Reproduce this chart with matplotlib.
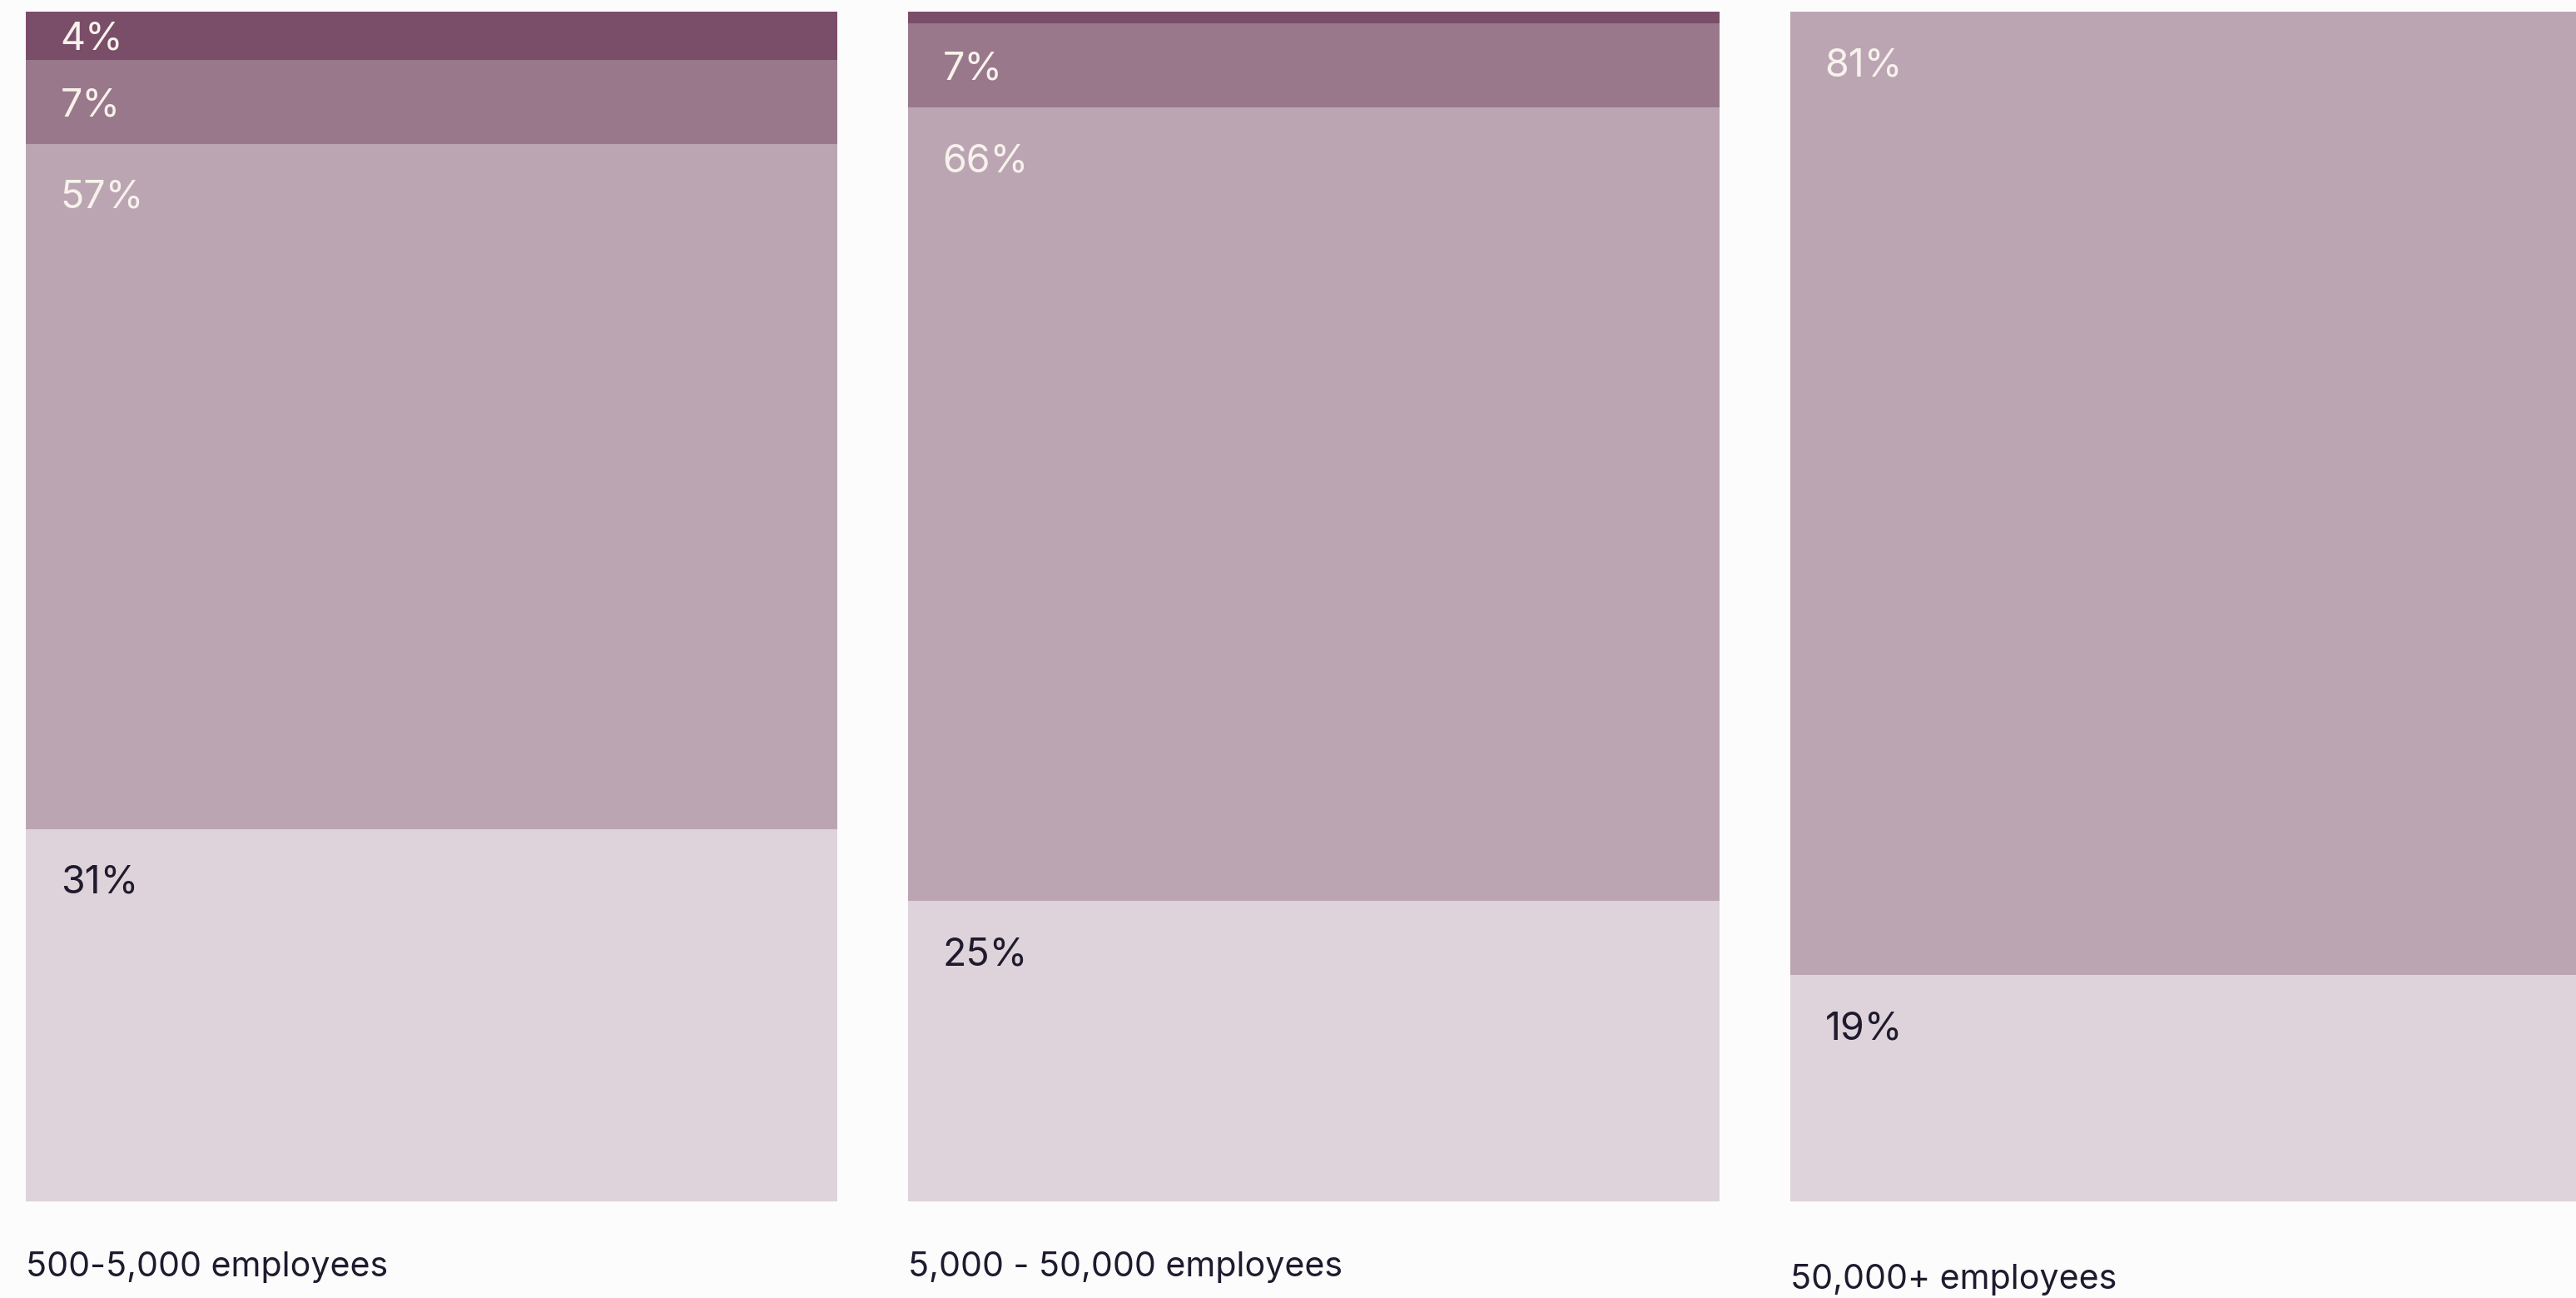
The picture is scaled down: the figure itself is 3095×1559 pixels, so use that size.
import numpy as np
import matplotlib.pyplot as plt

plt.rcParams['font.family'] = ['Inter', 'DejaVu Sans']

# company size groups, one stacked bar each
groups = ['500-5,000 employees', '5,000 - 50,000 employees', '50,000+ employees']

# answer shares per group, stacked from the bottom up
layer_values = [
    [31, 25, 19],
    [57, 66, 81],
    [7, 7, 0],
    [4, 1, 0],
]
layer_colors = ['#ded3da', '#bca5b2', '#9a788b', '#7a4d68']
text_colors = ['#1f1a2e', '#f7f2ec', '#f7f2ec', '#f7f2ec']

DPI = 100
fig = plt.figure(figsize=(30.95, 15.59), dpi=DPI, facecolor='#fdfcfc')
ax = fig.add_axes([0, 0, 1, 1])
ax.set_facecolor('#fdfcfc')
ax.axis('off')

x = np.arange(len(groups))
width = 0.92
ax.set_xlim(-0.489, 2.431)
ax.set_ylim(-8.12, 100.98)

# pixels per percentage point, used to keep label padding fixed in pixels
px_per_unit = fig.get_figheight() * DPI / (100.98 + 8.12)
pt = 72 / DPI

values = np.array(layer_values, dtype=float)
shares = values / values.sum(axis=0) * 100
bottom = np.zeros(len(groups))

for j in range(len(layer_values)):
    ax.bar(x, shares[j], width, bottom=bottom, color=layer_colors[j],
           linewidth=0, align='center')
    for i in range(len(groups)):
        v = layer_values[j][i]
        h_px = shares[j][i] * px_per_unit
        if v == 0 or h_px < 40:
            continue
        top = bottom[i] + shares[j][i]
        drop = min(77, h_px / 2 + 17)
        ax.annotate(f'{v}%', xy=(x[i] - width / 2, top),
                    xytext=(42 * pt, -drop * pt), textcoords='offset points',
                    ha='left', va='baseline', fontsize=33.5,
                    color=text_colors[j])
    bottom += shares[j]

# group names under the bars
name_drop = [90, 90, 105]
for i, name in enumerate(groups):
    ax.annotate(name, xy=(x[i] - width / 2, 0),
                xytext=(0, -name_drop[i] * pt), textcoords='offset points',
                ha='left', va='baseline', fontsize=29.6, color='#1f1a2e')

fig.savefig('out.png', dpi=DPI, facecolor=fig.get_facecolor())
